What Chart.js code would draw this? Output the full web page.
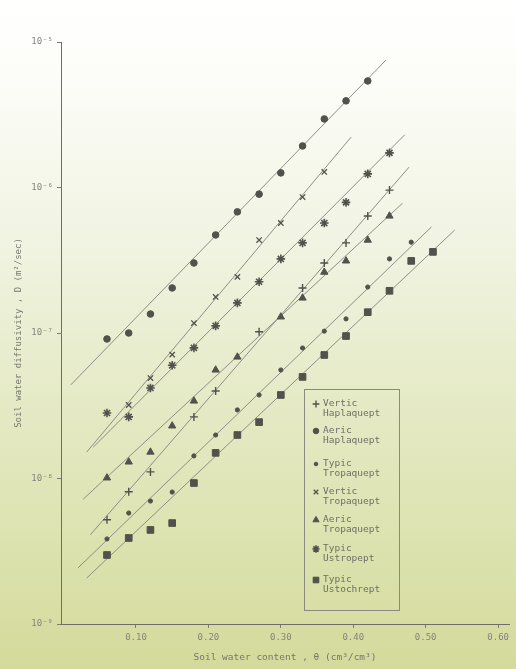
<!DOCTYPE html>
<html>
<head>
<meta charset="utf-8">
<script src="https://cdn.jsdelivr.net/npm/chart.js@4/dist/chart.umd.min.js"></script>
<style>
  html, body { margin: 0; padding: 0; background: #ffffff; }
  #wrap { width: 516px; height: 669px; position: relative; }
  canvas { display: block; }
</style>
</head>
<body>
<div id="wrap"><canvas id="c" width="516" height="669"></canvas></div>
<script>
// Soil great groups, in legend order
const seriesNames = ['Vertic Haplaquept', 'Aeric Haplaquept', 'Typic Tropaquept',
  'Vertic Tropaquept', 'Aeric Tropaquept', 'Typic Ustropept', 'Typic Ustochrept'];

// Measured diffusivity D (m²/sec) against water content θ (cm³/cm³)
const vertHaplTheta = [0.06, 0.09, 0.12, 0.18, 0.21, 0.27, 0.33, 0.36, 0.39, 0.42, 0.45];
const vertHaplD = [5.2e-9, 8.1e-9, 1.11e-8, 2.65e-8, 3.99e-8, 1.02e-7, 2.04e-7, 3.03e-7, 4.16e-7, 6.37e-7, 9.6e-7];

const aerHaplTheta = [0.06, 0.09, 0.12, 0.15, 0.18, 0.21, 0.24, 0.27, 0.30, 0.33, 0.36, 0.39, 0.42];
const aerHaplD = [9.1e-8, 1.0e-7, 1.35e-7, 2.04e-7, 3.03e-7, 4.72e-7, 6.8e-7, 9.0e-7, 1.26e-6, 1.93e-6, 2.96e-6, 3.94e-6, 5.4e-6];

const typTropTheta = [0.06, 0.09, 0.12, 0.15, 0.18, 0.21, 0.24, 0.27, 0.30, 0.33, 0.36, 0.39, 0.42, 0.45, 0.48];
const typTropD = [3.84e-9, 5.79e-9, 7.0e-9, 8.07e-9, 1.43e-8, 1.99e-8, 2.96e-8, 3.75e-8, 5.57e-8, 7.89e-8, 1.03e-7, 1.25e-7, 2.07e-7, 3.23e-7, 4.21e-7];

const vertTropTheta = [0.09, 0.12, 0.15, 0.18, 0.21, 0.24, 0.27, 0.30, 0.33, 0.36];
const vertTropD = [3.2e-8, 4.9e-8, 7.1e-8, 1.17e-7, 1.77e-7, 2.43e-7, 4.35e-7, 5.7e-7, 8.6e-7, 1.28e-6];

const aerTropTheta = [0.06, 0.09, 0.12, 0.15, 0.18, 0.21, 0.24, 0.30, 0.33, 0.36, 0.39, 0.42, 0.45];
const aerTropD = [1.01e-8, 1.30e-8, 1.52e-8, 2.30e-8, 3.41e-8, 5.57e-8, 6.84e-8, 1.29e-7, 1.74e-7, 2.62e-7, 3.13e-7, 4.35e-7, 6.37e-7];

const typUstrTheta = [0.06, 0.09, 0.12, 0.15, 0.18, 0.21, 0.24, 0.27, 0.30, 0.33, 0.36, 0.39, 0.42, 0.45];
const typUstrD = [2.82e-8, 2.65e-8, 4.19e-8, 6.0e-8, 7.9e-8, 1.12e-7, 1.61e-7, 2.25e-7, 3.23e-7, 4.16e-7, 5.7e-7, 7.9e-7, 1.24e-6, 1.73e-6];

const typUstcTheta = [0.06, 0.09, 0.12, 0.15, 0.18, 0.21, 0.24, 0.27, 0.30, 0.33, 0.36, 0.39, 0.42, 0.45, 0.48, 0.51];
const typUstcD = [2.98e-9, 3.90e-9, 4.43e-9, 4.94e-9, 9.31e-9, 1.50e-8, 1.99e-8, 2.44e-8, 3.75e-8, 4.99e-8, 7.06e-8, 9.53e-8, 1.39e-7, 1.95e-7, 3.13e-7, 3.61e-7];

// Fitted exponential lines (straight on the semi-log plot): start and end points
const fitTheta0 = [0.037, 0.010, 0.020, 0.032, 0.027, 0.041, 0.032];
const fitD0     = [4.1e-9, 4.4e-8, 2.43e-9, 1.52e-8, 7.2e-9, 1.64e-8, 2.07e-9];
const fitTheta1 = [0.477, 0.445, 0.508, 0.397, 0.468, 0.471, 0.540];
const fitD1     = [1.38e-6, 7.5e-6, 5.36e-7, 2.22e-6, 7.8e-7, 2.30e-6, 5.1e-7];

// Axis ticks
const xTicks = [0.10, 0.20, 0.30, 0.40, 0.50, 0.60];
const yTicks = [1e-9, 1e-8, 1e-7, 1e-6, 1e-5];
const supers = { '-': '⁻', '0': '⁰', '1': '¹', '2': '²', '3': '³', '4': '⁴', '5': '⁵', '6': '⁶', '7': '⁷', '8': '⁸', '9': '⁹' };

const thetaSets = [vertHaplTheta, aerHaplTheta, typTropTheta, vertTropTheta, aerTropTheta, typUstrTheta, typUstcTheta];
const dSets = [vertHaplD, aerHaplD, typTropD, vertTropD, aerTropD, typUstrD, typUstcD];

// Marker style for each group
const markers = [
  { pointStyle: 'cross',    radius: 4,   borderWidth: 1.4 },
  { pointStyle: 'circle',   radius: 3.3, borderWidth: 1 },
  { pointStyle: 'circle',   radius: 2.1, borderWidth: 1 },
  { pointStyle: 'crossRot', radius: 3.8, borderWidth: 1.3 },
  { pointStyle: 'triangle', radius: 4.2, borderWidth: 1 },
  { pointStyle: 'star',     radius: 4.3, borderWidth: 1.6 },
  { pointStyle: 'rect',     radius: 4.7, borderWidth: 1 }
];

const INK = '#52524c';
const LINE = '#8e8e88';
const TEXT = '#85857c';
const FONT = 'DejaVu Sans Mono';

const datasets = [];
seriesNames.forEach((name, i) => {
  const m = markers[i];
  datasets.push({
    label: name,
    data: thetaSets[i].map((t, k) => ({ x: t, y: dSets[i][k] })),
    showLine: false,
    pointStyle: m.pointStyle,
    pointRadius: m.radius,
    pointBorderWidth: m.borderWidth,
    backgroundColor: INK,
    borderColor: INK,
    order: 0
  });
  datasets.push({
    label: name + ' fit',
    data: [{ x: fitTheta0[i], y: fitD0[i] }, { x: fitTheta1[i], y: fitD1[i] }],
    showLine: true,
    pointRadius: 0,
    borderColor: LINE,
    borderWidth: 1,
    fill: false,
    order: 1
  });
});

// Paper background: white at the top fading to a pale yellow-green
const paper = {
  id: 'paper',
  beforeDraw(chart) {
    const { ctx, width, height } = chart;
    const g = ctx.createLinearGradient(0, 0, 0, height);
    g.addColorStop(0, '#ffffff');
    g.addColorStop(0.12, '#fcfdf8');
    g.addColorStop(0.35, '#f1f4e3');
    g.addColorStop(0.6, '#e5eac6');
    g.addColorStop(0.82, '#dce2ae');
    g.addColorStop(1, '#d4da9b');
    ctx.save();
    ctx.fillStyle = g;
    ctx.fillRect(0, 0, width, height);
    ctx.restore();
  }
};

// Boxed legend with two-line group names
const boxLegend = {
  id: 'boxLegend',
  afterDraw(chart) {
    const { ctx } = chart;
    const box = { x: 304.5, y: 389.5, w: 95, h: 221 };
    ctx.save();
    ctx.strokeStyle = '#8a8a80';
    ctx.lineWidth = 1;
    ctx.strokeRect(box.x, box.y, box.w, box.h);
    ctx.font = '9.5px "' + FONT + '"';
    ctx.textBaseline = 'middle';
    ctx.textAlign = 'left';
    const rows = [404, 431, 464, 492, 520, 549, 580];
    seriesNames.forEach((name, i) => {
      const y = rows[i];
      const m = markers[i];
      ctx.fillStyle = INK;
      ctx.strokeStyle = INK;
      ctx.lineWidth = m.borderWidth;
      Chart.helpers.drawPoint(ctx, { pointStyle: m.pointStyle, radius: m.radius * 0.85, borderWidth: m.borderWidth, rotation: 0 }, 316, y);
      const words = name.split(' ');
      ctx.fillStyle = '#6f6f66';
      ctx.fillText(words[0], 323, y);
      ctx.fillText(words[1], 323, y + 9.5);
    });
    ctx.restore();
  }
};

new Chart(document.getElementById('c'), {
  type: 'scatter',
  data: { datasets },
  plugins: [paper, boxLegend],
  options: {
    responsive: false,
    animation: false,
    devicePixelRatio: 1,
    layout: { padding: { top: 42, right: 7, left: 0, bottom: 0 } },
    plugins: { legend: { display: false }, tooltip: { enabled: false } },
    scales: {
      x: {
        type: 'linear',
        min: -0.0035,
        max: 0.615,
        afterFit(scale) { scale.height = 45; },
        afterBuildTicks(scale) { scale.ticks = xTicks.map(v => ({ value: v })); },
        ticks: {
          font: { family: FONT, size: 9 },
          color: TEXT,
          padding: 4,
          maxRotation: 0,
          callback: v => Number(v).toFixed(2)
        },
        grid: { drawOnChartArea: false, drawTicks: true, tickLength: 4, color: '#7c7c74' },
        border: { display: true, color: '#6e6e66', width: 1 },
        title: {
          display: true,
          text: 'Soil water content , θ (cm³/cm³)',
          font: { family: FONT, size: 9.5 },
          color: '#77776e',
          padding: { top: 0, bottom: 6 }
        }
      },
      y: {
        type: 'logarithmic',
        min: 1e-9,
        max: 1e-5,
        afterFit(scale) { scale.width = 61; },
        afterBuildTicks(scale) { scale.ticks = yTicks.map(v => ({ value: v, major: true })); },
        ticks: {
          font: { family: FONT, size: 9 },
          color: TEXT,
          padding: 4,
          callback: v => '10' + String(Math.round(Math.log10(v))).split('').map(c => supers[c]).join('')
        },
        grid: { drawOnChartArea: false, drawTicks: true, tickLength: 4, color: '#7c7c74' },
        border: { display: true, color: '#6e6e66', width: 1 },
        title: {
          display: true,
          text: 'Soil water diffusivity , D (m²/sec)',
          font: { family: FONT, size: 9 },
          color: '#77776e',
          padding: { top: 13, bottom: 0 }
        }
      }
    }
  }
});
</script>
</body>
</html>
